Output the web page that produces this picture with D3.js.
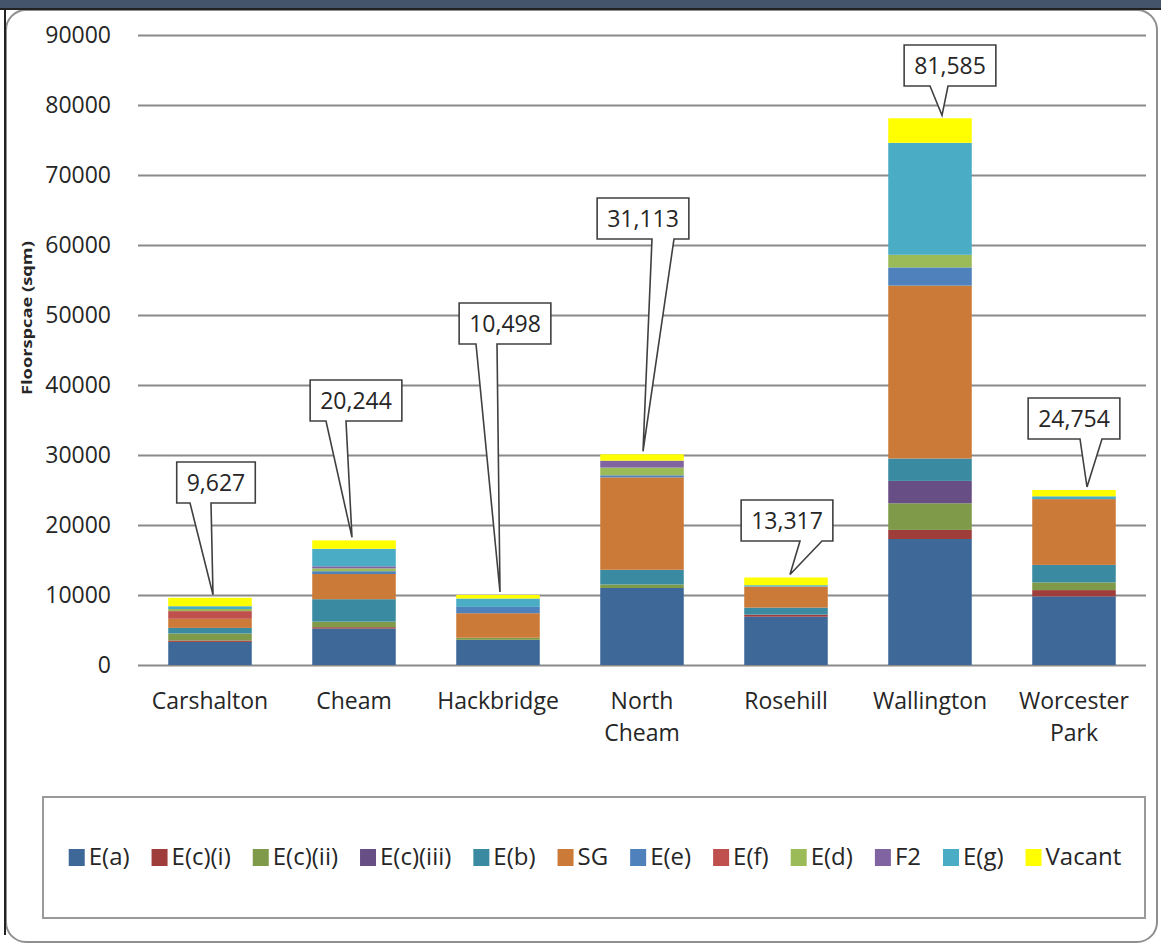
<!DOCTYPE html>
<html>
<head>
<meta charset="utf-8">
<script src="https://cdn.jsdelivr.net/npm/d3@7"></script>
<style>
  html, body { margin: 0; padding: 0; background: #ffffff; }
  svg { display: block; }
  text { font-family: "Open Sans", Lato, "DejaVu Sans", sans-serif; fill: #262626; }
</style>
</head>
<body>
<svg id="chart" width="1161" height="945"></svg>
<script>
// Town centres
const categories = ["Carshalton", "Cheam", "Hackbridge", "North Cheam", "Rosehill", "Wallington", "Worcester Park"];

// Floorspace (sqm) by use class, one value per town centre
const seriesNames = ["E(a)", "E(c)(i)", "E(c)(ii)", "E(c)(iii)", "E(b)", "SG", "E(e)", "E(f)", "E(d)", "F2", "E(g)", "Vacant"];
const useEa    = [3300, 5200, 3600, 11000, 6900, 18000, 9800];
const useEci   = [200, 200, 0, 0, 300, 1300, 900];
const useEcii  = [1000, 800, 300, 500, 0, 3800, 1100];
const useEciii = [0, 0, 0, 0, 0, 3200, 0];
const useEb    = [800, 3200, 0, 2100, 1000, 3200, 2500];
const useSG    = [1300, 3600, 3500, 13200, 3000, 24700, 9400];
const useEe    = [0, 400, 900, 300, 0, 2600, 0];
const useEf    = [1100, 0, 0, 0, 0, 0, 0];
const useEd    = [300, 400, 0, 1100, 0, 1800, 0];
const useF2    = [0, 300, 0, 1000, 0, 0, 0];
const useEg    = [400, 2500, 1200, 0, 200, 16000, 400];
const useVacant = [1200, 1200, 500, 900, 1100, 3500, 900];

// Reported total floorspace per centre (callout values)
const reportedTotals = [9627, 20244, 10498, 31113, 13317, 81585, 24754];

// Axis ticks
const yTicks = [0, 10000, 20000, 30000, 40000, 50000, 60000, 70000, 80000, 90000];

const seriesValues = [useEa, useEci, useEcii, useEciii, useEb, useSG, useEe, useEf, useEd, useF2, useEg, useVacant];
const colors = ["#3d6898", "#9e3d3a", "#7f9a49", "#674f86", "#3a8ba1", "#cc7a38",
                "#4f81bd", "#c0504d", "#9bbb59", "#8064a2", "#4bacc6", "#ffff00"];

// Callout layout: box centre offset from band centre, box top, wedge base offsets, tip offset
const calloutLayout = [
  { dx: 6,  top: 462, b0: -26, b1: -5,  tip: 3 },
  { dx: 2,  top: 380, b0: -30, b1: -10, tip: -2 },
  { dx: 7,  top: 303, b0: -29, b1: -8,  tip: 2 },
  { dx: 1,  top: 198, b0: 9,   b1: 31,  tip: 1 },
  { dx: 1,  top: 500, b0: 13,  b1: 35,  tip: 4 },
  { dx: 20, top: 45,  b0: -20, b1: -2,  tip: 12 },
  { dx: 0,  top: 398, b0: 6,   b1: 28,  tip: 13 }
];

const rows = categories.map((c, i) => {
  const r = { category: c };
  seriesNames.forEach((s, k) => { r[s] = seriesValues[k][i]; });
  return r;
});

const svg = d3.select("#chart");
const W = 1161, H = 945;

// Page frame
svg.append("rect").attr("x", 0).attr("y", 0).attr("width", W).attr("height", H).attr("fill", "#ffffff");
svg.append("rect").attr("x", 0).attr("y", 0).attr("width", W).attr("height", 8).attr("fill", "#44546a");
svg.append("rect").attr("x", 6).attr("y", 10).attr("width", W - 10).attr("height", H - 13)
  .attr("rx", 20).attr("fill", "none").attr("stroke", "#8f8f8f").attr("stroke-width", 2);
svg.append("line").attr("x1", 0).attr("x2", W).attr("y1", 9).attr("y2", 9)
  .attr("stroke", "#222").attr("stroke-width", 2);
svg.append("line").attr("x1", 5).attr("x2", 5).attr("y1", 8).attr("y2", H - 10)
  .attr("stroke", "#222").attr("stroke-width", 2);

// Scales
const x = d3.scaleBand().domain(categories).range([138, 1146]).paddingInner(0.42).paddingOuter(0.21);
const y = d3.scaleLinear().domain([0, 90000]).range([665, 35]);

// Gridlines and value axis
const yAxis = d3.axisLeft(y).tickValues(yTicks).tickSize(-(1146 - 138)).tickPadding(27).tickFormat(d3.format("d"));
const gy = svg.append("g").attr("transform", "translate(138,0)").call(yAxis);
gy.select(".domain").remove();
gy.selectAll(".tick line").attr("stroke", "#8a8a8a").attr("stroke-width", 2);
gy.selectAll(".tick text").attr("font-size", 23).attr("fill", "#262626")
  .attr("font-family", "'Open Sans', sans-serif");

// Category axis labels
const gx = svg.append("g").attr("transform", "translate(0,665)").call(d3.axisBottom(x).tickSize(0).tickFormat(""));
gx.select(".domain").remove();
const catWords = { "North Cheam": ["North", "Cheam"], "Worcester Park": ["Worcester", "Park"] };
svg.append("g").selectAll("text").data(categories).join("text")
  .attr("x", d => x(d) + x.bandwidth() / 2)
  .attr("y", 709)
  .attr("text-anchor", "middle")
  .attr("font-size", 23)
  .each(function (d) {
    const lines = catWords[d] || [d];
    d3.select(this).selectAll("tspan").data(lines).join("tspan")
      .attr("x", x(d) + x.bandwidth() / 2)
      .attr("dy", (l, i) => i === 0 ? 0 : 32)
      .text(l => l);
  });

// Axis title
svg.append("text")
  .attr("transform", "translate(32,318) rotate(-90)")
  .attr("text-anchor", "middle")
  .attr("font-size", 15)
  .attr("font-weight", "bold")
  .attr("fill", "#1a1a1a")
  .attr("textLength", 154)
  .attr("lengthAdjust", "spacingAndGlyphs")
  .text("Floorspcae (sqm)");

// Stacked bars
const stacked = d3.stack().keys(seriesNames)(rows);
svg.append("g").selectAll("g").data(stacked).join("g")
  .attr("fill", (d, i) => colors[i])
  .selectAll("rect").data(d => d).join("rect")
  .attr("x", d => x(d.data.category))
  .attr("width", x.bandwidth())
  .attr("y", d => y(d[1]))
  .attr("height", d => y(d[0]) - y(d[1]));

// Callouts with reported totals
const fmt = d3.format(",");
const barTops = categories.map((c, i) => d3.sum(seriesValues, s => s[i]));
const cg = svg.append("g");
categories.forEach((c, i) => {
  const L = calloutLayout[i];
  const cx = x(c) + x.bandwidth() / 2;
  const label = fmt(reportedTotals[i]);
  const t = cg.append("text").attr("font-size", 23).attr("text-anchor", "middle").text(label);
  const tw = t.node().getComputedTextLength();
  const bw = tw + 20, bh = 41;
  const bx = cx + L.dx - bw / 2, by = L.top;
  const tipX = cx + L.tip, tipY = y(barTops[i]) - 3;
  const path = d3.path();
  path.moveTo(bx, by);
  path.lineTo(bx + bw, by);
  path.lineTo(bx + bw, by + bh);
  path.lineTo(cx + L.dx + L.b1, by + bh);
  path.lineTo(tipX, tipY);
  path.lineTo(cx + L.dx + L.b0, by + bh);
  path.lineTo(bx, by + bh);
  path.closePath();
  cg.insert("path", "text").attr("d", path.toString())
    .attr("fill", "#ffffff").attr("stroke", "#404040").attr("stroke-width", 1.6).attr("stroke-linejoin", "miter");
  t.attr("x", cx + L.dx).attr("y", by + bh / 2 + 8).raise();
});

// Legend
const lg = svg.append("g");
lg.append("rect").attr("x", 43).attr("y", 797).attr("width", 1102).attr("height", 121)
  .attr("fill", "#ffffff").attr("stroke", "#9a9a9a").attr("stroke-width", 2);
const items = lg.append("g");
let cursor = 0;
const gap = 22;
seriesNames.forEach((s, i) => {
  const it = items.append("g").attr("transform", `translate(${cursor},0)`);
  it.append("rect").attr("x", 0).attr("y", -8).attr("width", 16).attr("height", 17).attr("fill", colors[i]);
  const tx = it.append("text").attr("x", 20).attr("y", 8).attr("font-size", 24).text(s);
  cursor += 20 + tx.node().getComputedTextLength() + gap;
});
const totalW = cursor - gap;
items.attr("transform", `translate(${595 - totalW / 2},857)`);
</script>
</body>
</html>
